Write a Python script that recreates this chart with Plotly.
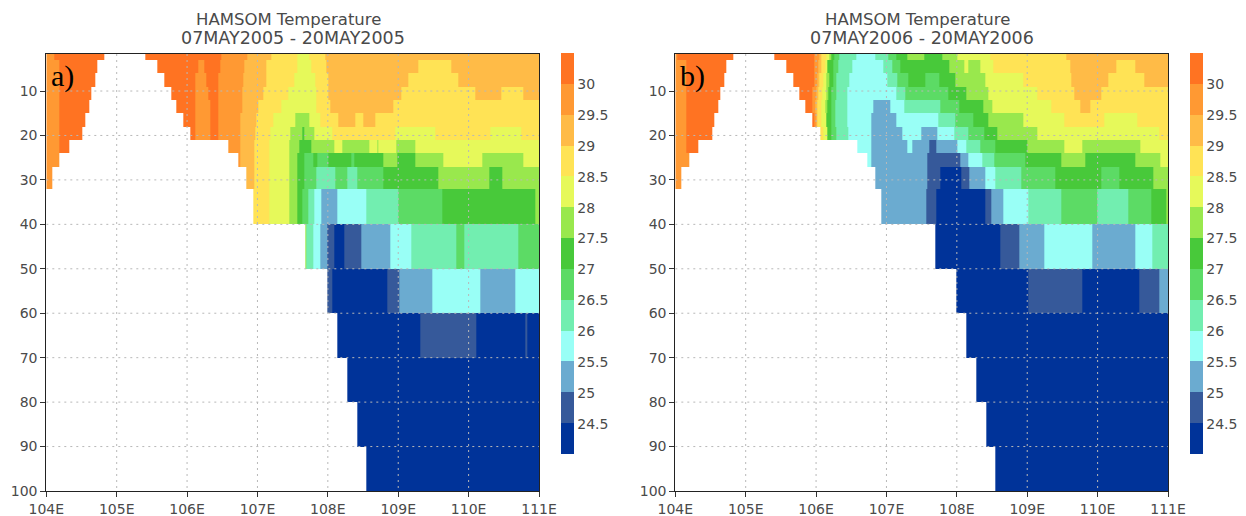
import plotly.graph_objects as go

# temperature classes (class centres, degC)
DO, O, LO, Y, LY = 30.25, 29.75, 29.25, 28.75, 28.25
LG, G, MG, MT, C = 27.75, 27.25, 26.75, 26.25, 25.75
LB, MB, DB, N = 25.25, 24.75, 24.25, None

depth_edges = [1.67, 3, 6, 9, 12, 15, 18, 21, 24, 27, 32, 40, 50, 60, 70, 80, 90, 100]
class_colors = ["#003399", "#36599A", "#6BABD0", "#99FFF6", "#72EEB0", "#5CDB65", "#48C93A",
                "#99E84D", "#E6F95A", "#FFE355", "#FFBB47", "#FF9933", "#FF7322"]
lon_ticks = [104, 105, 106, 107, 108, 109, 110, 111]
lon_labels = ["104E", "105E", "106E", "107E", "108E", "109E", "110E", "111E"]
depth_ticks = [10, 20, 30, 40, 50, 60, 70, 80, 90, 100]
cbar_ticks = [24.5, 25, 25.5, 26, 26.5, 27, 27.5, 28, 28.5, 29, 29.5, 30]
cbar_labels = ["24.5", "25", "25.5", "26", "26.5", "27", "27.5", "28", "28.5", "29", "29.5", "30"]

a_edges = [
    [104,104.12,104.82,105.40,106.48,106.85,107.20,107.57,107.74,107.96,111],
    [104,104.19,104.73,105.57,106.16,106.24,106.47,106.82,107.13,107.56,107.76,107.98,109.29,109.75,111],
    [104,104.19,104.69,105.67,106.11,106.27,106.45,106.80,107.12,107.52,107.82,108.01,109.15,109.86,111],
    [104,104.19,104.64,105.77,106.11,106.30,106.45,106.79,107.09,107.44,107.84,108.01,109.05,110.09,110.47,110.78,111],
    [104,104.19,104.61,105.85,106.11,106.33,106.45,106.78,107.01,107.34,107.84,108.04,108.93,111],
    [104,104.19,104.56,105.94,106.11,106.33,106.45,106.76,106.99,107.23,107.54,107.73,107.89,108.15,108.39,108.51,108.67,111],
    [104,104.19,104.51,106.05,106.11,106.33,106.45,106.75,106.97,107.18,107.46,107.64,107.67,107.81,108.06,108.96,109.53,110.31,110.75,111],
    [104,104.19,104.33,106.59,106.75,106.95,107.17,107.45,107.59,107.77,108.09,108.20,108.59,108.70,108.72,108.97,109.24,111],
    [104,104.19,106.73,106.76,106.95,107.17,107.45,107.57,107.66,107.80,107.85,108.01,108.33,108.37,108.79,108.98,109.24,109.64,110.19,110.78,111],
    [104,104.09,106.84,106.95,107.17,107.45,107.57,107.66,107.84,108.10,108.27,108.42,108.79,109.57,110.30,110.48,111],
    [104,106.94,107.17,107.45,107.57,107.64,107.72,107.81,107.90,108.14,108.54,109.00,109.63,110.95,111],
    [104,107.68,107.70,107.79,107.89,107.99,108.09,108.24,108.47,108.89,109.18,109.82,109.94,110.70,111],
    [104,107.99,108.07,108.85,109.02,109.48,110.16,110.67,111],
    [104,108.14,109.31,110.11,110.80,110.83,111],
    [104,108.27,111],
    [104,108.42,111],
    [104,108.54,111],
]
a_temps = [
    [O,DO,N,DO,O,LO,Y,LY,Y,LO],
    [O,DO,N,DO,O,DO,O,LO,Y,LY,Y,LO,Y,LO],
    [O,DO,N,DO,O,DO,O,LO,Y,LY,Y,LO,Y,LO],
    [O,DO,N,DO,O,DO,O,LO,Y,LY,Y,LO,Y,LO,Y,LO],
    [O,DO,N,DO,O,DO,O,LO,Y,LY,Y,LO,Y],
    [O,DO,N,DO,O,DO,O,LO,Y,LY,LG,LY,Y,LO,Y,LO,Y],
    [O,DO,N,DO,O,DO,O,LO,Y,LY,LG,G,LG,LY,Y,LY,Y,LY,Y],
    [O,DO,N,O,LO,Y,LY,LG,G,LG,LY,LG,LY,LG,LY,LG,LY],
    [O,N,O,LO,Y,LY,LG,G,MG,G,MG,G,MG,G,LG,G,LG,LY,LG,LY],
    [O,N,LO,Y,LY,LG,G,MG,MT,MG,MT,MG,G,LG,G,LG],
    [N,Y,LY,LG,G,MG,MT,C,LB,C,MT,MG,G,LG],
    [N,LG,MT,C,LB,MB,DB,MB,LB,C,MT,MG,MT,MG],
    [N,MB,DB,MB,LB,C,LB,C],
    [N,DB,MB,DB,MB,DB],
    [N,DB],
    [N,DB],
    [N,DB],
]
b_edges = [
    [104,104.03,104.82,105.40,105.97,106.05,106.08,106.15,106.19,106.21,106.26,106.33,106.57,106.84,107.03,107.14,107.30,107.54,107.79,108.00,108.47,109.56,111],
    [104,104.16,104.73,105.57,105.97,106.03,106.07,106.13,106.16,106.25,106.32,106.51,106.96,107.09,107.20,107.89,108.11,108.16,108.33,108.52,109.61,110.27,110.53,111],
    [104,104.15,104.69,105.68,105.97,106.02,106.05,106.10,106.15,106.19,106.25,106.29,106.47,107.01,107.16,107.31,107.55,107.75,107.98,108.41,108.94,109.63,110.15,110.67,111],
    [104,104.15,104.64,105.76,105.95,106.01,106.03,106.09,106.14,106.18,106.22,106.29,106.44,107.14,107.27,107.88,108.14,108.45,109.15,109.67,110.05,111],
    [104,104.16,104.61,105.85,105.94,105.99,106.02,106.08,106.13,106.16,106.22,106.28,106.44,106.82,107.05,107.25,107.76,108.04,108.37,108.50,109.34,109.75,109.89,111],
    [104,104.16,104.56,105.94,105.97,106.00,106.02,106.08,106.14,106.21,106.28,106.44,106.79,107.14,107.74,107.98,108.24,108.45,108.94,109.53,110.09,110.57,111],
    [104,104.16,104.52,106.06,106.10,106.16,106.22,106.29,106.46,106.79,107.22,107.50,107.72,107.97,108.16,108.39,108.57,109.14,110.88,111],
    [104,104.16,104.33,106.59,106.79,107.29,107.37,107.61,107.71,108.00,108.14,108.34,108.54,109.00,109.53,109.78,110.61,111],
    [104,104.20,106.73,106.79,107.58,108.05,108.16,108.36,108.53,108.97,109.48,109.83,110.53,110.89,111],
    [104,104.09,106.84,107.58,107.76,108.07,108.18,108.40,108.54,108.91,109.40,110.05,110.31,110.79,111],
    [104,106.93,107.57,107.71,108.40,108.49,108.66,109.01,109.48,110.00,110.43,110.76,110.98,111],
    [104,107.69,108.62,108.89,109.24,109.92,110.53,110.78,111],
    [104,107.99,109.01,109.78,110.59,110.88,111],
    [104,108.14,111],
    [104,108.27,111],
    [104,108.42,111],
    [104,108.54,111],
]
b_temps = [
    [O,DO,N,DO,O,LO,Y,LY,LG,G,MG,MT,C,MT,MG,G,LG,G,LG,LY,Y,LO],
    [O,DO,N,DO,O,LO,Y,LY,G,MG,MT,C,MT,MG,G,LG,LY,LG,LY,Y,LO,Y,LO],
    [O,DO,N,DO,O,LO,Y,LY,LG,G,MG,MT,C,MT,MG,G,MG,G,LG,LY,Y,LO,Y,LO],
    [O,DO,N,DO,O,LO,Y,LY,LG,G,MG,MT,C,MT,MG,G,LG,LY,Y,LO,Y],
    [O,DO,N,DO,O,LO,Y,LY,LG,G,MG,MT,C,LB,C,MT,MG,G,LG,LY,Y,LO,Y],
    [O,DO,N,DO,O,LO,Y,LY,G,MG,MT,C,LB,C,MT,MG,G,LG,LY,Y,LY,Y],
    [O,DO,N,Y,LY,G,MG,MT,C,LB,C,LB,C,MT,MG,G,LG,LY,Y],
    [O,DO,N,C,LB,C,LB,MB,LB,C,MT,MG,G,LG,LY,LG,LY],
    [O,N,C,LB,MB,LB,C,MT,MG,G,LG,G,LG,LY],
    [O,N,LB,MB,DB,MB,LB,C,MT,MG,G,MG,G,LG],
    [N,LB,MB,DB,MB,LB,C,MT,MG,MT,MG,G,LG],
    [N,DB,MB,LB,C,LB,C,MT],
    [N,DB,MB,DB,MB,LB],
    [N,DB],
    [N,DB],
    [N,DB],
    [N,DB],
]

W, H = 1246, 516
TICK = "#4a4a4a"
FONT = "DejaVu Sans"


def grid(edges, temps):
    xs = sorted({e for row in edges for e in row})
    z = []
    for re, rt in zip(edges, temps):
        assert len(re) == len(rt) + 1, (re, rt)
        line = []
        for left in xs[:-1]:
            for i, t in enumerate(rt):
                if re[i] <= left < re[i + 1]:
                    line.append(t)
                    break
        z.append(line)
    return xs, z


n = len(class_colors)
scale = []
for i, col in enumerate(class_colors):
    scale += [[i / n, col], [(i + 1) / n, col]]

fig = go.Figure()
panels = [
    (a_edges, a_temps, "x", "y", (46.3, 539), 561, "a)", "07MAY2005 - 20MAY2005"),
    (b_edges, b_temps, "x2", "y2", (675.3, 1168), 1190, "b)", "07MAY2006 - 20MAY2006"),
]
axis_common = dict(showgrid=False, zeroline=False, showline=True, mirror=True, linecolor="#222222",
                   linewidth=1, ticks="outside", ticklen=5, tickcolor="#333333",
                   tickfont=dict(family=FONT, size=14, color=TICK))
layout = {}
ann = []
shapes = []
for k, (edges, temps, xa, ya, (x0, x1), cbx, tag, dates) in enumerate(panels):
    xs, z = grid(edges, temps)
    fig.add_trace(go.Heatmap(
        x=xs, y=depth_edges, z=z, xaxis=xa, yaxis=ya, zmin=24, zmax=30.5, colorscale=scale,
        hoverongaps=False, zsmooth=False,
        colorbar=dict(x=cbx / W, xanchor="left", xpad=0, ypad=0, thickness=13, len=401 / H,
                      y=1 - 53.5 / H, yanchor="top", outlinewidth=0, ticks="", tickvals=cbar_ticks,
                      ticktext=cbar_labels, tickfont=dict(family=FONT, size=14, color=TICK)),
    ))
    sfx = "" if k == 0 else "2"
    layout["xaxis" + sfx] = dict(domain=[x0 / W, x1 / W], range=[104, 111], tickvals=lon_ticks,
                                 ticktext=lon_labels, anchor="y" + sfx, **axis_common)
    layout["yaxis" + sfx] = dict(domain=[1 - 491 / H, 1 - 54 / H], range=[100, 1.67], tickvals=depth_ticks,
                                 ticktext=[str(d) for d in depth_ticks], anchor="x" + sfx, **axis_common)
    for lon in lon_ticks[1:-1]:
        shapes.append(dict(type="line", xref=xa, yref=ya, x0=lon, x1=lon, y0=depth_edges[0], y1=100,
                           layer="above", line=dict(color="#b8b8b8", width=1, dash="2px,4px")))
    for d in depth_ticks[:-1]:
        shapes.append(dict(type="line", xref=xa, yref=ya, x0=104, x1=111, y0=d, y1=d,
                           layer="above", line=dict(color="#b8b8b8", width=1, dash="2px,4px")))
    cx = (x0 + x1) / 2
    ann.append(dict(text="HAMSOM Temperature", xref="paper", yref="paper", x=(cx - 4) / W, y=1 - 20 / H,
                    xanchor="center", yanchor="middle", showarrow=False,
                    font=dict(family=FONT, size=16.5, color=TICK)))
    ann.append(dict(text=dates, xref="paper", yref="paper", x=cx / W, y=1 - 38 / H,
                    xanchor="center", yanchor="middle", showarrow=False,
                    font=dict(family=FONT, size=17.5, color=TICK)))
    ann.append(dict(text=tag, xref="paper", yref="paper", x=(x0 + 3) / W, y=1 - 76 / H,
                    xanchor="left", yanchor="middle", showarrow=False,
                    font=dict(family="Liberation Serif", size=30, color="#000000")))

fig.update_layout(width=W, height=H, margin=dict(l=0, r=0, t=0, b=0, autoexpand=False), paper_bgcolor="white",
                  plot_bgcolor="white", showlegend=False, annotations=ann, shapes=shapes, **layout)
fig.write_html("out.html", config={"displayModeBar": False},
               post_script="document.body.style.margin='0';document.body.style.overflow='hidden';")
